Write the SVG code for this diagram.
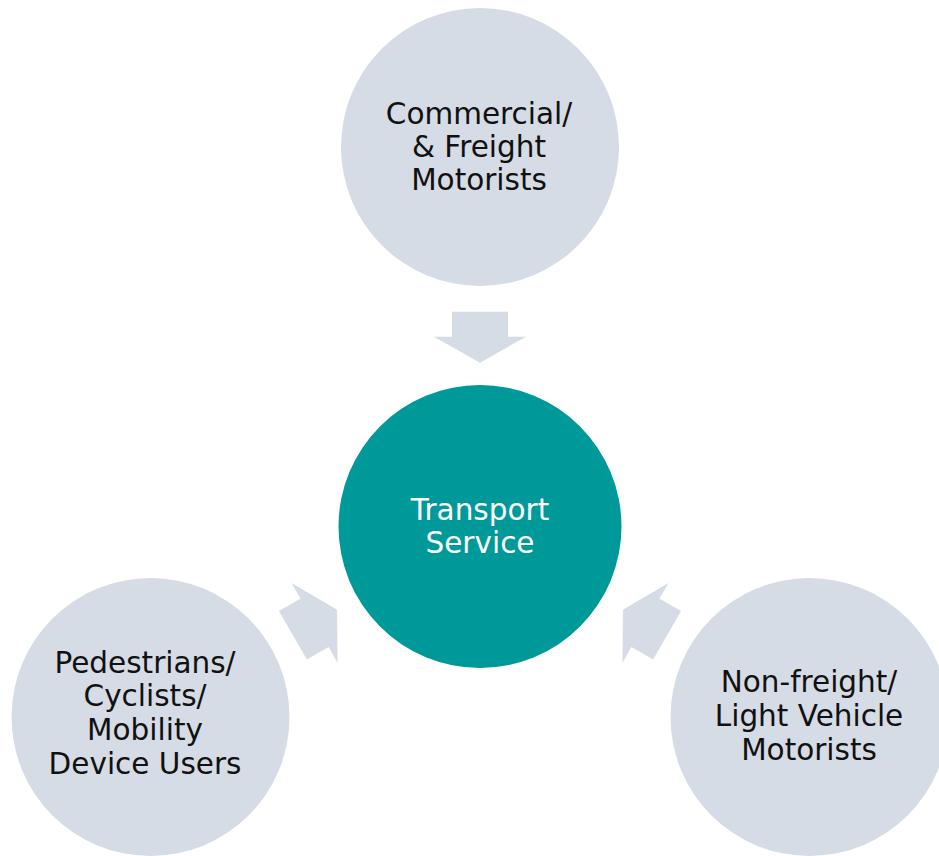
<svg xmlns="http://www.w3.org/2000/svg" xmlns:xlink="http://www.w3.org/1999/xlink" width="939" height="856" viewBox="0 0 939 856">
  <style>
    .stakeholder { fill: #D6DCE5; }
    .hub { fill: #009999; }
    .label { font-family: "DejaVu Sans", "Liberation Sans", sans-serif; font-size: 29.5px; text-anchor: middle; fill: #111111; }
    .hub-label { fill: #FFFFFF; }
    .flow { fill: #D6DCE5; }
  </style>
  <defs>
    <!-- block arrow pointing along +x, centred on its midpoint -->
    <path id="blockArrow" d="M-25.5,-28 L-0.5,-28 L-0.5,-46 L25.5,0 L-0.5,46 L-0.5,28 L-25.5,28 Z"/>
  </defs>

  <rect width="939" height="856" fill="#FFFFFF"/>

  <g id="connectors">
    <use xlink:href="#blockArrow" class="flow" transform="translate(480,337.2) rotate(90)"/>
    <use xlink:href="#blockArrow" class="flow" transform="translate(315,622.6) rotate(-30)"/>
    <use xlink:href="#blockArrow" class="flow" transform="translate(645,622.6) rotate(-150)"/>
  </g>

  <g id="commercial-freight">
    <circle class="stakeholder" cx="480" cy="147" r="139"/>
    <text class="label" x="479" y="124">Commercial/</text>
    <text class="label" x="479" y="157">&amp; Freight</text>
    <text class="label" x="479" y="190">Motorists</text>
  </g>

  <g id="transport-service">
    <circle class="hub" cx="480" cy="526.5" r="141.5"/>
    <text class="label hub-label" x="480" y="520">Transport</text>
    <text class="label hub-label" x="480" y="553">Service</text>
  </g>

  <g id="pedestrians-cyclists">
    <circle class="stakeholder" cx="150.5" cy="717" r="139"/>
    <text class="label" x="145" y="673">Pedestrians/</text>
    <text class="label" x="145" y="706">Cyclists/</text>
    <text class="label" x="145" y="740">Mobility</text>
    <text class="label" x="145" y="774">Device Users</text>
  </g>

  <g id="light-vehicle">
    <circle class="stakeholder" cx="809.5" cy="717" r="139"/>
    <text class="label" x="809" y="692">Non-freight/</text>
    <text class="label" x="809" y="726">Light Vehicle</text>
    <text class="label" x="809" y="760">Motorists</text>
  </g>
</svg>
